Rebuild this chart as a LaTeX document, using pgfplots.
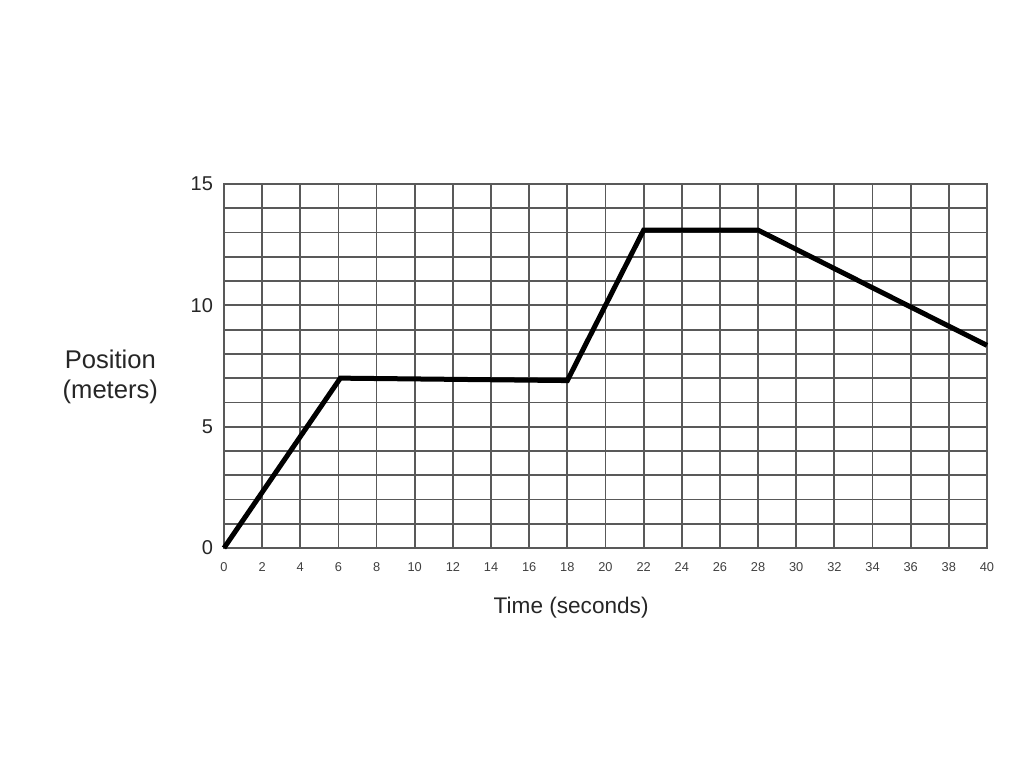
\documentclass[border=0pt]{standalone}
\usepackage{pgfplots}
\pgfplotsset{compat=1.18}
\usepackage{fontspec}
\setmainfont{Liberation Sans}
\begin{document}
\begin{tikzpicture}
\path[use as bounding box, fill=white] (-112pt,-110pt) rectangle (400pt,274pt);
\begin{axis}[
  scale only axis,
  width=381.5pt, height=182pt,
  xmin=0, xmax=40, ymin=0, ymax=15,
  xtick={0,2,...,40},
  ytick={0,5,10,15},
  minor ytick={0,1,...,15},
  grid=both,
  major grid style={black!65, line width=0.9pt},
  minor grid style={black!65, line width=0.9pt},
  axis line style={black!65, line width=0.9pt},
  major tick length=0pt, minor tick length=0pt,
  /pgf/number format/assume math mode=true,
  x tick label style={font=\fontsize{6.4}{7}\selectfont, text=black!75, yshift=-3pt, text height=5pt, text depth=0pt},
  y tick label style={font=\fontsize{10}{11}\selectfont, text=black!85, xshift=-2pt},
  clip=false,
]
\addplot[black, line width=2.5pt, line join=miter] coordinates {
  (0,0) (6.1,7.0) (18,6.9) (22,13.1) (28,13.1) (40,8.35)
};
\node[align=center, font=\fontsize{12.8}{15}\selectfont, text=black!85] at (axis description cs:-0.149,0.47) {Position\\(meters)};
\node[font=\fontsize{11.3}{13}\selectfont, text=black!85] at (axis description cs:0.455,-0.164) {Time (seconds)};
\end{axis}
\end{tikzpicture}
\end{document}
